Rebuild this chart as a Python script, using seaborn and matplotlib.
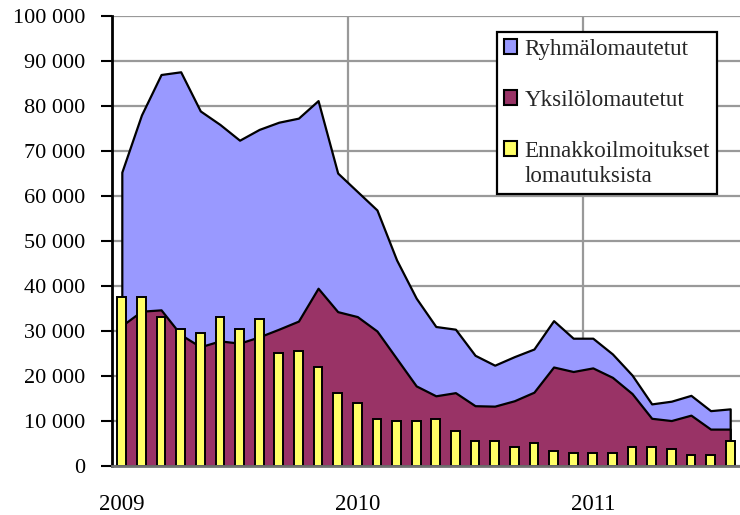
import numpy as np
import pandas as pd
import matplotlib
matplotlib.use("Agg")
import matplotlib.pyplot as plt
from matplotlib.patches import Patch
from matplotlib.ticker import FixedLocator, FuncFormatter
import seaborn as sns

# ---- data (monthly, Jan 2009 - Aug 2011) ----
months = pd.date_range("2009-01-01", periods=32, freq="MS").strftime("%Y-%m").tolist()
ryhma = [34100, 43600, 52300, 58400, 52400, 48100, 45100, 46100, 46000, 45100, 41700, 30800,
         27800, 26900, 21900, 19500, 15400, 14100, 11200, 9100, 9800, 9600, 10300, 7400,
         6600, 5200, 4100, 3200, 4300, 4400, 4100, 4500]
yksilo = [31200, 34400, 34700, 29200, 26500, 27800, 27300, 28700, 30400, 32200, 39500, 34300,
          33200, 30000, 23900, 17800, 15600, 16300, 13400, 13300, 14500, 16400, 22000, 21000,
          21800, 19700, 16100, 10600, 10100, 11300, 8200, 8200]
ennakko = [37500, 37500, 33100, 30400, 29600, 33100, 30400, 32700, 25100, 25600, 22100, 16300,
           14100, 10400, 10100, 10100, 10400, 7800, 5600, 5600, 4300, 5200, 3400, 3000,
           3000, 3000, 4300, 4300, 3800, 2500, 2500, 5600]
series_names = ["Ryhmälomautetut", "Yksilölomautetut", "Ennakkoilmoitukset\nlomautuksista"]
year_labels = ["2009", "2010", "2011"]
y_ticks = list(range(0, 100001, 10000))

colors = ["#9999FF", "#993366", "#FFFF66"]

sns.set_theme(style="white")
plt.rcParams["font.family"] = ["Liberation Serif", "DejaVu Serif"]

df = pd.DataFrame({"month": months, "ryhma": ryhma, "yksilo": yksilo, "ennakko": ennakko})
df["total"] = df["ryhma"] + df["yksilo"]

fig = plt.figure(figsize=(7.4, 5.15), dpi=100)
L, R, T, B = 112, 740, 16, 466
ax = fig.add_axes([L / 740, (515 - B) / 515, (R - L) / 740, (B - T) / 515])

xpos = np.arange(len(df))
ax.fill_between(xpos, 0, df["total"], facecolor=colors[0], edgecolor="black", lw=1.6, zorder=2)
ax.fill_between(xpos, 0, df["yksilo"], facecolor=colors[1], edgecolor="black", lw=1.6, zorder=3)
sns.barplot(data=df, x="month", y="ennakko", color=colors[2], saturation=1, edgecolor="black",
            linewidth=1.4, width=0.44, ax=ax, zorder=4)

ax.set_xlim(-0.5, len(df) - 0.5)
ax.set_ylim(0, 100000)
ax.set_xlabel("")
ax.set_ylabel("")

# axes ticks
ax.yaxis.set_major_locator(FixedLocator(y_ticks))
ax.yaxis.set_major_formatter(FuncFormatter(lambda v, p: f"{int(v):,}".replace(",", " ")))
year_pos = [i for i, m in enumerate(months) if m.endswith("-01")]
ax.set_xticks(year_pos)
ax.set_xticklabels(year_labels)
ax.xaxis.set_minor_locator(FixedLocator([p - 0.5 for p in year_pos[1:]]))

ax.grid(False)
ax.yaxis.grid(True, color="#999999", lw=1.6, zorder=0)
ax.xaxis.grid(True, which="minor", color="#999999", lw=1.6, zorder=0)
ax.set_axisbelow(True)

ax.tick_params(axis="y", which="major", left=True, direction="out", length=8, width=1.5,
               color="black", labelsize=16, pad=11, labelcolor="black")
ax.tick_params(axis="x", which="both", bottom=False, length=0, labelsize=16.5, pad=20,
               labelcolor="black")

for s in ["top", "right"]:
    ax.spines[s].set_visible(False)
ax.spines["left"].set_color("black")
ax.spines["left"].set_linewidth(2)
ax.spines["bottom"].set_color("#707070")
ax.spines["bottom"].set_linewidth(2)
ax.spines["bottom"].set_zorder(5)

# legend
handles = [Patch(facecolor=c, edgecolor="black", lw=1.5) for c in colors]
lx = (496.7 - L) / (R - L)
ly = (B - 31.7) / (B - T)
leg = ax.legend(handles, series_names, loc="upper left", bbox_to_anchor=(lx, ly),
                frameon=True, fancybox=False, edgecolor="black", framealpha=1, fontsize=16.6,
                handlelength=0.6, handleheight=0.6, handletextpad=0.3, labelspacing=1.3,
                borderpad=0.3, borderaxespad=0)
leg.get_frame().set_linewidth(1.6)
leg.set_zorder(10)
for t in leg.get_texts():
    t.set_linespacing(1.3)

# align the handle of the two-line entry with its first line
fig.canvas.draw()
r = fig.canvas.get_renderer()
hs = leg.legend_handles
ts = leg.get_texts()
off0 = ts[0].get_window_extent(r).y1 - hs[0].get_window_extent(r).y1
desired = ts[2].get_window_extent(r).y1 - off0
cur = hs[2].get_window_extent(r).y1
hs[2].set_y(hs[2].get_y() + (desired - cur) * 72 / fig.dpi)

fig.savefig("out.png", dpi=100)
